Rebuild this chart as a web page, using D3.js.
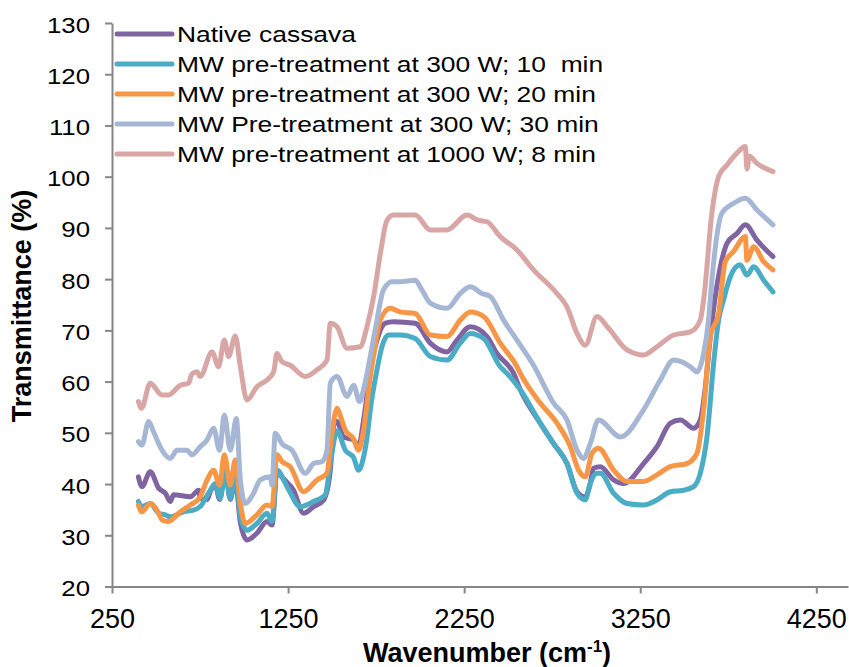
<!DOCTYPE html>
<html>
<head>
<meta charset="utf-8">
<script src="https://cdn.jsdelivr.net/npm/d3@7"></script>
<style>
    body { margin: 0; background: #fff; }
    svg { display: block; font-family: 'Liberation Sans', Arial, sans-serif; }
    .y-axis text { transform: scaleX(1.2); transform-box: fill-box; transform-origin: 100% 50%; }
    .legend text { transform: scaleX(1.2); transform-box: fill-box; transform-origin: 0% 50%; white-space: pre; }
</style>
</head>
<body>
<div class="view"></div>
<script>
// 数据
const seriesNames = [
    'Native cassava',
    'MW pre-treatment at 300 W; 10  min',
    'MW pre-treatment at 300 W; 20 min',
    'MW Pre-treatment at 300 W; 30 min',
    'MW pre-treatment at 1000 W; 8 min'
]
const xTicks = [250, 1250, 2250, 3250, 4250]
const yTicks = [20, 30, 40, 50, 60, 70, 80, 90, 100, 110, 120, 130]

const nativeWn = [400,420,467,515,553,581,600,695,742,751,790,808,837,861,893,922,950,979,1017,1073,1130,1159,1187,1215,1281,1338,1395,1452,1490,1510,1528,1565,1622,1650,1679,1717,1755,1802,1849,1972,2058,2152,2209,2285,2380,2436,2531,2569,2682,2758,2834,2891,2938,2966,2985,3023,3099,3156,3269,3345,3421,3478,3553,3591,3620,3648,3705,3743,3799,3847,3913,4004]
const nativeT = [41.4,39.5,42.4,39.2,38.2,36.6,37.9,37.5,38.8,37.2,37,38.5,39.8,37,42.3,37,41,32.5,29.1,30.4,32.7,32,42.7,41.4,38.8,34.3,35.6,36.9,42.7,51.5,52.2,49.2,48.6,47.3,52.5,62.3,68.1,71.4,71.7,71.4,67.5,65.8,68.1,70.7,68.8,65.5,61.6,58.4,51.9,47.9,44.0,38.5,37.5,40.1,43.1,43.4,40.8,40.1,44.0,47.3,51.9,52.5,50.9,52.5,59,68.8,82.4,87,88.9,90.6,87.6,84.4]

const mw10Wn = [400,420,467,515,553,581,657,713,751,808,837,865,893,922,950,979,1017,1073,1130,1159,1187,1244,1319,1395,1461,1490,1528,1575,1622,1650,1679,1700,1717,1755,1783,1821,1887,1972,2058,2152,2228,2285,2361,2455,2493,2569,2682,2758,2834,2891,2938,2966,3004,3023,3099,3175,3269,3345,3421,3496,3553,3591,3629,3667,3695,3723,3762,3818,3856,3894,3951,4004]
const mw10T = [36.6,35.6,36.2,34.3,34.0,33.6,34.6,34.9,35.6,38.8,40.1,37.2,42.7,37.2,41.4,33.6,31.0,32.3,34.3,32.7,42.7,39.5,35.6,36.6,37.9,44,50.4,46.6,45.2,42.7,45.3,49.5,54.5,62.3,66.8,69.1,69.1,68.4,64.9,64.2,67.5,69.4,68.4,62.9,61.6,58.4,51.9,47.9,44.0,38.2,36.9,40.1,42.1,42.1,38.2,36.2,35.9,36.9,38.5,38.8,39.5,42.1,49.2,63.6,72,75.9,80.5,82.8,80.8,82.4,79.8,77.5]

const mw20Wn = [400,420,467,515,534,571,638,695,751,790,827,861,888,922,950,979,1007,1073,1130,1159,1187,1215,1262,1338,1414,1471,1490,1528,1545,1575,1622,1650,1679,1717,1740,1774,1830,1887,1972,2058,2152,2228,2285,2361,2455,2550,2569,2682,2777,2853,2900,2938,2976,3013,3099,3175,3269,3345,3421,3515,3572,3610,3648,3695,3733,3780,3847,3856,3894,3951,4004]
const mw20T = [35.9,34.6,36.2,34.3,33,32.7,34.6,35.9,37.5,40.8,42.7,39.8,45.7,39.8,44.7,36.2,32.3,34,35.9,35.6,45.7,44.4,43.4,38.5,40.8,42.1,47.3,54.8,53.5,50.5,48.8,46.6,50.6,61,66,72,74.3,73.6,73.3,69.1,68.8,72,73.6,72.7,67.5,62.9,61.6,55.8,51.9,47.3,42.7,41.4,46,47,42.7,40.5,40.5,41.8,43.4,44.0,46,54.5,68.8,73.3,83.4,85.4,88.3,83.7,86.3,83.4,81.8]

const mw30Wn = [400,420,458,486,534,581,619,676,704,751,790,827,861,888,922,956,979,1007,1054,1092,1149,1159,1177,1215,1272,1348,1395,1443,1471,1490,1528,1585,1622,1656,1679,1698,1745,1792,1840,1887,1972,2010,2058,2152,2228,2285,2351,2398,2474,2550,2644,2758,2834,2891,2928,2966,3013,3137,3269,3364,3440,3535,3572,3610,3638,3657,3714,3780,3847,3913,4004]
const mw30T = [48.3,47.6,52.2,50.2,46.6,45,46.6,46.6,45.7,47.3,48.6,50.9,46.6,53.5,46.6,52.8,40.8,36.2,38.2,40.8,41.4,39.8,49.9,47.9,46.6,42.1,44.0,44.4,46.6,59.7,61,57.1,59.3,56.1,58.5,61.5,70.1,77.9,79.5,79.5,79.8,77.9,75.3,74.3,77.2,78.5,77.2,76.6,72,68.1,63.2,55.8,52.5,46.6,45,47.9,52.5,49.2,54.5,60.3,64.2,62.9,61.9,65.5,72,79.8,92.9,94.8,95.8,93.5,90.6]

const mw1000Wn = [400,418,467,534,571,638,685,704,733,751,818,855,888,912,950,979,1017,1073,1130,1168,1187,1215,1262,1348,1414,1471,1490,1528,1585,1660,1698,1736,1774,1812,1849,1887,1972,2058,2152,2266,2330,2380,2455,2550,2644,2777,2834,2891,2938,3004,3070,3175,3269,3345,3440,3535,3591,3610,3657,3695,3743,3799,3847,3856,3870,3913,4004]
const mw1000T = [56.1,54.8,59.7,57.4,57.4,59.3,59.7,61.5,61.9,61,65.8,62.9,68.1,64.9,68.9,62.9,56.4,59.0,60.3,61.9,65.5,63.9,63.2,61,62.3,64.2,71.4,70.7,66.5,66.8,70.7,76.6,85,91.5,92.5,92.5,92.5,89.6,89.6,92.5,91.5,91.2,88.3,85.7,81.8,77.2,74.6,69.4,67.1,72.7,70.4,66.2,65.2,66.8,69.1,69.7,72,75.9,92.9,100,102.3,104.6,105.9,101.5,104,102.6,101]

const colors = ['#8064a2', '#4bacc6', '#f79646', '#a6b7d5', '#d8a7a5']

const dataset = [
    d3.zip(nativeWn, nativeT),
    d3.zip(mw10Wn, mw10T),
    d3.zip(mw20Wn, mw20T),
    d3.zip(mw30Wn, mw30T),
    d3.zip(mw1000Wn, mw1000T)
]

const w = 849
const h = 667

const svg = d3.select('.view')
    .append('svg')
    .attr('width', w)
    .attr('height', h)

// 比例尺
const xScale = d3.scaleLinear()
    .domain([250, 4430])
    .range([112, 848])

const yScale = d3.scaleLinear()
    .domain([20, 130])
    .range([586.5, 23])

// 数轴
const xAxis = d3.axisBottom(xScale).tickValues(xTicks).tickSize(7).tickSizeOuter(0).tickPadding(15).tickFormat(d3.format('d'))
const yAxis = d3.axisLeft(yScale).tickValues(yTicks).tickSize(7).tickSizeOuter(0).tickPadding(15)

svg.append('g')
    .attr('class', 'x-axis')
    .attr('transform', 'translate(0,' + yScale(20) + ')')
    .call(xAxis)

svg.append('g')
    .attr('class', 'y-axis')
    .attr('transform', 'translate(' + xScale(250) + ',0)')
    .call(yAxis)

svg.selectAll('.x-axis text, .y-axis text')
    .attr('fill', '#000')

svg.select('.x-axis').selectAll('text').attr('font-size', 27)
svg.select('.y-axis').selectAll('text').attr('font-size', 21.5).attr('dy', '0.42em')

svg.selectAll('.domain, .tick line')
    .attr('stroke', '#868686')
    .attr('stroke-width', 2)

// 绘制曲线
const line = d3.line()
    .x((d) => xScale(d[0]))
    .y((d) => yScale(d[1]))
    .curve(d3.curveMonotoneX)

svg.append('g')
    .attr('class', 'lines')
    .selectAll('path')
    .data(dataset)
    .enter()
    .append('path')
    .attr('d', line)
    .attr('fill', 'none')
    .attr('stroke', (d, i) => colors[i])
    .attr('stroke-width', 5)
    .attr('stroke-linejoin', 'round')
    .attr('stroke-linecap', 'round')

// 图例
const legend = svg.append('g')
    .attr('class', 'legend')
    .selectAll('g')
    .data(seriesNames)
    .enter()
    .append('g')
    .attr('transform', (d, i) => 'translate(0,' + (34 + i * 30) + ')')

legend.append('line')
    .attr('x1', 117)
    .attr('x2', 172)
    .attr('stroke', (d, i) => colors[i])
    .attr('stroke-width', 5)
    .attr('stroke-linecap', 'round')

legend.append('text')
    .attr('x', 177)
    .attr('dy', '0.36em')
    .attr('font-size', 22)
    .text((d) => d)

// 坐标轴标题
svg.append('text')
    .attr('class', 'y-label')
    .attr('transform', 'translate(31,306) rotate(-90)')
    .attr('text-anchor', 'middle')
    .attr('font-size', 27)
    .attr('font-weight', 'bold')
    .text('Transmittance (%)')

const xLabel = svg.append('text')
    .attr('class', 'x-label')
    .attr('x', 487)
    .attr('y', 662)
    .attr('text-anchor', 'middle')
    .attr('font-size', 27)
    .attr('font-weight', 'bold')

xLabel.append('tspan').text('Wavenumber (cm')
xLabel.append('tspan').attr('font-size', 17).attr('dy', -10).text('-1')
xLabel.append('tspan').attr('dy', 10).text(')')
</script>
</body>
</html>
